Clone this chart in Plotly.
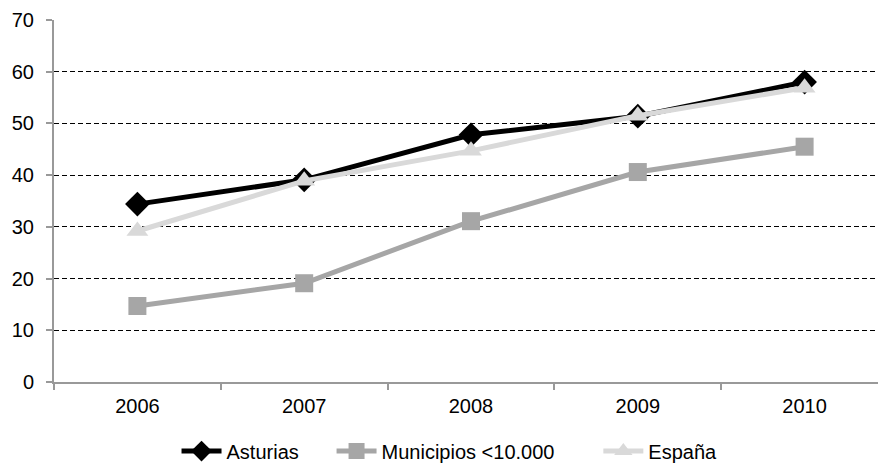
import plotly.graph_objects as go

years = ["2006", "2007", "2008", "2009", "2010"]
asturias = [34.4, 39.1, 47.8, 51.4, 58.0]
municipios = [14.7, 19.1, 31.1, 40.6, 45.5]
espana = [29.2, 38.9, 44.7, 51.5, 56.9]

NBSP = "\u00a0"
series = [
    ("Asturias" + NBSP * 5, asturias, "#000000", "diamond", 19),
    ("Municipios <10.000" + NBSP * 7, municipios, "#A6A6A6", "square", 18),
    ("España", espana, "#D9D9D9", "triangle-up", 19),
]

fig = go.Figure()
for name, vals, color, symbol, size in series:
    fig.add_trace(go.Scatter(
        x=years, y=vals, name=name, mode="lines+markers",
        line=dict(color=color, width=5),
        marker=dict(symbol=symbol, size=size, color=color, line=dict(width=0)),
    ))

font = dict(family="Liberation Sans, Arial, sans-serif", size=20, color="#000000")

fig.update_layout(
    width=878, height=466,
    margin=dict(l=54, r=0, t=20, b=84),
    paper_bgcolor="white", plot_bgcolor="white",
    font=font,
    showlegend=True,
    legend=dict(
        orientation="h", x=0.48, xanchor="center",
        yref="container", y=0.032, yanchor="middle",
        font=font, itemwidth=40, tracegroupgap=0,
    ),
    xaxis=dict(
        type="category", range=[-0.5, 4.44],
        showgrid=False, showline=True, linecolor="#999999", linewidth=2,
        ticks="outside", ticklen=6, tickcolor="#999999", tickwidth=1.5,
        tickson="boundaries", ticklabelstandoff=5,
        tickfont=font,
    ),
    yaxis=dict(
        range=[0, 70], dtick=10, tick0=0,
        showgrid=True, gridcolor="#000000", gridwidth=1, griddash="5px,3px",
        showline=True, linecolor="#999999", linewidth=2,
        ticks="outside", ticklen=6, tickcolor="#999999", tickwidth=1.5,
        ticklabelstandoff=8, zeroline=False,
        tickfont=font,
    ),
)

fig.write_html("out.html")
